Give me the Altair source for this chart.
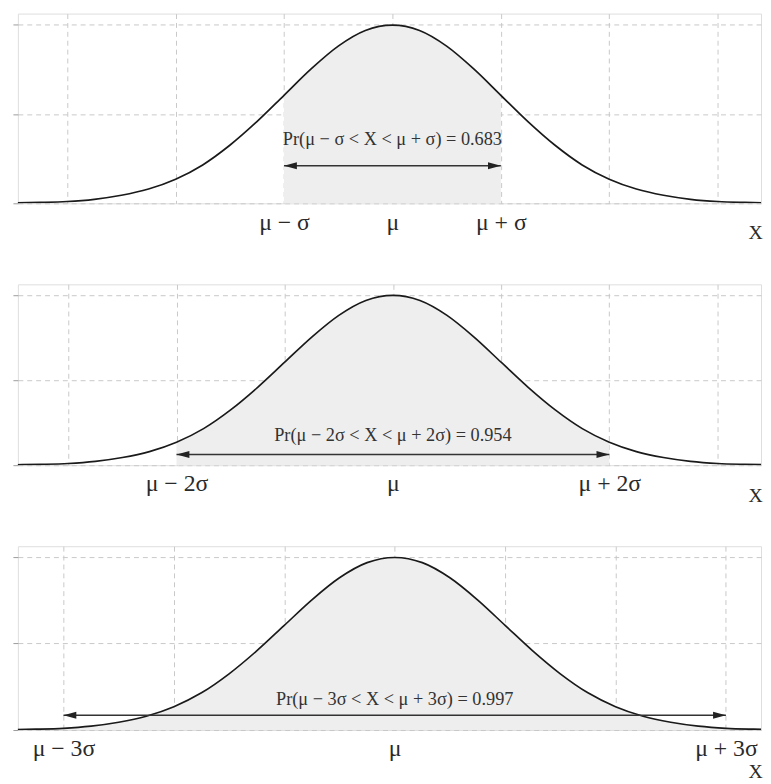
import altair as alt
import pandas as pd

# ---- data ----
z_values = [-3.5, -3.25, -3.0, -2.75, -2.5, -2.25, -2.0, -1.75, -1.5, -1.25, -1.0, -0.75,
            -0.5, -0.25, 0.0, 0.25, 0.5, 0.75, 1.0, 1.25, 1.5, 1.75, 2.0, 2.25, 2.5, 2.75,
            3.0, 3.25, 3.5]
density = [0.001, 0.002, 0.004, 0.009, 0.018, 0.032, 0.054, 0.086, 0.130, 0.183, 0.242, 0.301,
           0.352, 0.387, 0.399, 0.387, 0.352, 0.301, 0.242, 0.183, 0.130, 0.086, 0.054, 0.032,
           0.018, 0.009, 0.004, 0.002, 0.001]

k_values = [1, 2, 3]
grid_x = [-3, -2, -1, 0, 1, 2, 3]
grid_y = [0, 0.2, 0.4]
tick_labels = [
    ["μ − σ", "μ", "μ + σ"],
    ["μ − 2σ", "μ", "μ + 2σ"],
    ["μ − 3σ", "μ", "μ + 3σ"],
]
prob_texts = [
    "Pr(μ − σ < X < μ + σ) = 0.683",
    "Pr(μ − 2σ < X < μ + 2σ) = 0.954",
    "Pr(μ − 3σ < X < μ + 3σ) = 0.997",
]
arrow_y = [0.084, 0.025, 0.034]
text_y = [0.143, 0.07, 0.072]
x_domains = [[-3.455, 3.40], [-3.466, 3.402], [-3.413, 3.318]]
panel_heights = [192, 183, 186]
title_offsets = [30, 31, 42]

curve_df = pd.DataFrame({"x": z_values, "y": density})

FONT = "Liberation Serif"
W = 752
LEFT_HEAD = "M0,0L2,-0.55L2,0.55Z"
RIGHT_HEAD = "M0,0L-2,-0.55L-2,0.55Z"


def panel(i):
    k = k_values[i]
    labs = tick_labels[i]
    expr = (f"datum.value == {-k} ? '{labs[0]}' : datum.value == 0 ? '{labs[1]}' : "
            f"datum.value == {k} ? '{labs[2]}' : ''")
    xs = alt.Scale(domain=x_domains[i], nice=False, zero=False)
    ys = alt.Scale(domain=[0, 0.425], nice=False, zero=False)
    x_axis = alt.Axis(values=grid_x, labelExpr=expr, title="X", grid=True, ticks=False,
                      tickSize=0, domain=False, labelPadding=26, labelBaseline="alphabetic",
                      labelFontSize=24, labelFont=FONT, labelColor="#2a2a2a",
                      labelOverlap=False, labelFlush=False,
                      titleFont=FONT, titleFontSize=20, titleFontWeight="normal",
                      titleColor="#2a2a2a", titleX=W - 6, titleY=title_offsets[i],
                      titleAlign="center", titleBaseline="middle",
                      gridColor="#c8c8c8", gridDash=[5, 4], gridWidth=1)
    y_axis = alt.Axis(values=grid_y, labels=False, title=None, domain=False, ticks=True,
                      tickSize=5, tickColor="#9a9a9a", grid=True, gridColor="#c8c8c8",
                      gridDash=[5, 4], gridWidth=1)

    base = alt.Chart(curve_df)
    area = base.mark_area(color="#eeeeee", opacity=1, interpolate="monotone").encode(
        x=alt.X("x:Q", scale=xs, axis=x_axis),
        y=alt.Y("y:Q", scale=ys, axis=y_axis),
    ).transform_filter(alt.FieldRangePredicate(field="x", range=[-k, k]))
    line = base.mark_line(color="#1a1a1a", strokeWidth=1.7, interpolate="monotone",
                          clip=True).encode(
        x=alt.X("x:Q", scale=xs),
        y=alt.Y("y:Q", scale=ys),
    )
    adf = pd.DataFrame({"x1": [-k], "x2": [k], "y": [arrow_y[i]], "t": [prob_texts[i]],
                        "xc": [0], "ty": [text_y[i]]})
    arrow = alt.Chart(adf).mark_rule(color="#333333", strokeWidth=1.6).encode(
        x=alt.X("x1:Q", scale=xs), x2="x2:Q", y=alt.Y("y:Q", scale=ys))
    head_l = alt.Chart(adf).mark_point(shape=LEFT_HEAD, filled=True, size=169,
                                       color="#222222", opacity=1, strokeWidth=0).encode(
        x=alt.X("x1:Q", scale=xs), y=alt.Y("y:Q", scale=ys))
    head_r = alt.Chart(adf).mark_point(shape=RIGHT_HEAD, filled=True, size=169,
                                       color="#222222", opacity=1, strokeWidth=0).encode(
        x=alt.X("x2:Q", scale=xs), y=alt.Y("y:Q", scale=ys))
    text = alt.Chart(adf).mark_text(font=FONT, fontSize=18.5, color="#333333",
                                    baseline="middle", align="center").encode(
        x=alt.X("xc:Q", scale=xs), y=alt.Y("ty:Q", scale=ys), text="t:N")
    return alt.layer(area, line, arrow, head_l, head_r, text).properties(
        width=W, height=panel_heights[i])


chart = alt.vconcat(panel(0), panel(1), panel(2), spacing=82, bounds="flush").properties(
    padding={"left": 4, "top": 0, "right": 0, "bottom": 0}
).configure_view(stroke="#b5b5b5", strokeWidth=1).configure(background="white")

chart.save("out.html", embed_options={"renderer": "svg", "actions": False})
